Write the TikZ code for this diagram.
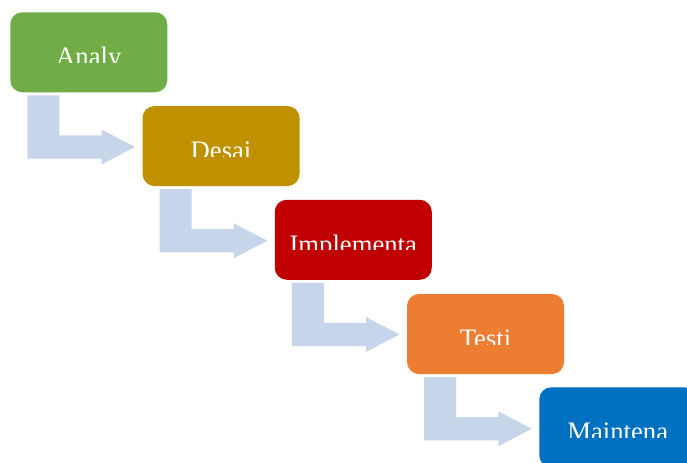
\documentclass[tikz,border=0pt]{standalone}
\usepackage{fontspec}
\setmainfont{Liberation Serif}
\definecolor{cgreen}{HTML}{70AD47}
\definecolor{cgold}{HTML}{BF9000}
\definecolor{cred}{HTML}{C00000}
\definecolor{corange}{HTML}{ED7D31}
\definecolor{cblue}{HTML}{0070C0}
\definecolor{carrow}{HTML}{C6D5EA}
\begin{document}
\begin{tikzpicture}[x=0.75pt,y=-0.75pt,
  stagebox/.style={anchor=north west,minimum width=117.75pt,minimum height=60pt,
    inner sep=0pt,rounded corners=9pt,draw=none},
  stagetext/.style={anchor=base,text=white,inner sep=0pt,
    font=\fontsize{20}{20}\selectfont},
  bentarrow/.pic={\fill[carrow] (17.3,83.3) -- (49.3,83.3) -- (49.3,123.3) -- (91.7,123.3)
    -- (91.7,117.7) -- (125,135) -- (91.7,152.3) -- (91.7,146.7) -- (17.3,146.7) -- cycle;}]
\useasboundingbox (0,0) rectangle (687,463);
\fill[white] (0,0) rectangle (687,463);
\node[stagebox,fill=cgreen]  (a) at (10,12) {};
\node[stagebox,fill=cgold]   (b) at (142.25,105.75) {};
\node[stagebox,fill=cred]    (c) at (274.5,199.5) {};
\node[stagebox,fill=corange] (d) at (406.75,293.75) {};
\node[stagebox,fill=cblue]   (e) at (539,387) {};
\pic at (a.north west) {bentarrow};
\pic at (b.north west) {bentarrow};
\pic at (c.north west) {bentarrow};
\pic at (d.north west) {bentarrow};
\foreach \n/\t in {a/Analy,b/Desai,c/Implementa,d/Testi,e/Maintena}{
  \begin{scope}
    \clip (\n.north west) rectangle ([yshift=-7.5pt]\n.east);
    \node[stagetext] (t\n) at ([yshift=-10.25pt]\n.center) {\t};
  \end{scope}
}
\end{tikzpicture}
\end{document}
